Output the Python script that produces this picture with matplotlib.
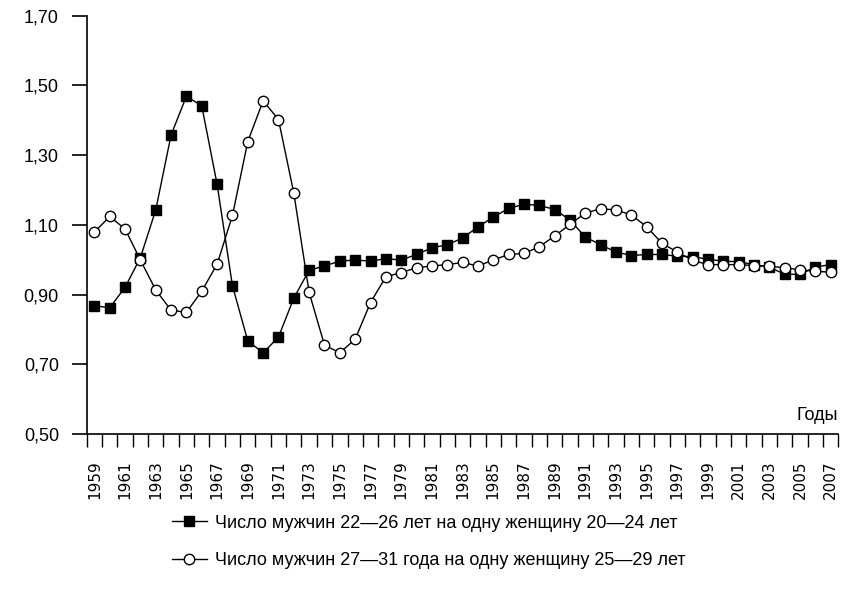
import matplotlib
matplotlib.use("Agg")
import matplotlib.pyplot as plt
from matplotlib import font_manager
from matplotlib.ticker import FixedLocator, FuncFormatter

# years and the two sex-ratio series
years = list(range(1959, 2008))

men_22_26 = [0.868, 0.862, 0.921, 1.006, 1.143, 1.358, 1.469, 1.441, 1.216, 0.925,
             0.767, 0.733, 0.778, 0.890, 0.970, 0.982, 0.996, 0.999, 0.996, 1.003,
             0.999, 1.015, 1.034, 1.043, 1.062, 1.094, 1.122, 1.147, 1.159, 1.156,
             1.144, 1.114, 1.065, 1.043, 1.022, 1.012, 1.015, 1.015, 1.010, 1.009,
             1.001, 0.996, 0.994, 0.986, 0.979, 0.958, 0.958, 0.979, 0.986]

men_27_31 = [1.079, 1.124, 1.088, 0.999, 0.913, 0.855, 0.849, 0.910, 0.987, 1.127,
             1.339, 1.456, 1.402, 1.191, 0.906, 0.755, 0.733, 0.772, 0.877, 0.951,
             0.963, 0.977, 0.982, 0.986, 0.992, 0.982, 0.999, 1.015, 1.018, 1.037,
             1.068, 1.101, 1.134, 1.146, 1.143, 1.128, 1.095, 1.047, 1.022, 0.998,
             0.986, 0.986, 0.986, 0.983, 0.981, 0.977, 0.971, 0.967, 0.964]

label_1 = "Число мужчин 22—26 лет на одну женщину 20—24 лет"
label_2 = "Число мужчин 27—31 года на одну женщину 25—29 лет"
y_ticks = [0.5, 0.7, 0.9, 1.1, 1.3, 1.5, 1.7]

# pick a condensed face if there is one
installed = {f.name for f in font_manager.fontManager.ttflist}
narrow = "Liberation Sans"
for name in ["Liberation Sans Narrow", "DejaVu Sans Condensed"]:
    if name in installed:
        narrow = name
        break
txt_size = 13 if narrow != "Liberation Sans" else 12.5

fig = plt.figure(figsize=(8.52, 5.96), dpi=100)
ax = fig.add_axes([0.1018, 0.2718, 0.8822, 0.7019])

ax.plot(years, men_22_26, color="black", lw=1.0, marker="s", ms=7.2,
        mfc="black", mec="black", label=label_1, zorder=3)
ax.plot(years, men_27_31, color="black", lw=1.0, marker="o", ms=7.5,
        mfc="white", mec="black", mew=1.0, label=label_2, zorder=4)

ax.set_xlim(1958.5, 2007.5)
ax.set_ylim(0.5, 1.7)

for s in ["top", "right"]:
    ax.spines[s].set_visible(False)
ax.spines["left"].set_linewidth(1.2)
ax.spines["bottom"].set_linewidth(1.2)

# y axis
ax.set_yticks(y_ticks)
ax.yaxis.set_major_formatter(FuncFormatter(lambda v, p: f"{v:.2f}".replace(".", ",")))
ax.tick_params(axis="y", direction="out", length=11, width=1.2, pad=9)
for t in ax.get_yticklabels():
    t.set_family(narrow)
    t.set_fontsize(txt_size + 0.5)

# x axis: tick marks at year boundaries, labels every second year
ax.xaxis.set_minor_locator(FixedLocator([y - 0.5 for y in years] + [2007.5]))
ax.set_xticks(years[::2])
ax.set_xticklabels([str(y) for y in years[::2]], rotation=90, fontsize=11,
                   family="DejaVu Sans")
ax.tick_params(axis="x", which="major", length=0, pad=19)
ax.tick_params(axis="x", which="minor", direction="out", length=9.5, width=1.0)

ax.text(1.0, 0.025, "Годы", transform=ax.transAxes, ha="right", va="bottom",
        fontsize=txt_size + 0.5, family=narrow)

leg = fig.legend(loc="upper center", bbox_to_anchor=(0.503, 0.164), frameon=False,
                 handlelength=1.95, handletextpad=0.45, labelspacing=1.15,
                 prop={"family": narrow, "size": txt_size + 0.5})

fig.savefig("out.png", dpi=100)
